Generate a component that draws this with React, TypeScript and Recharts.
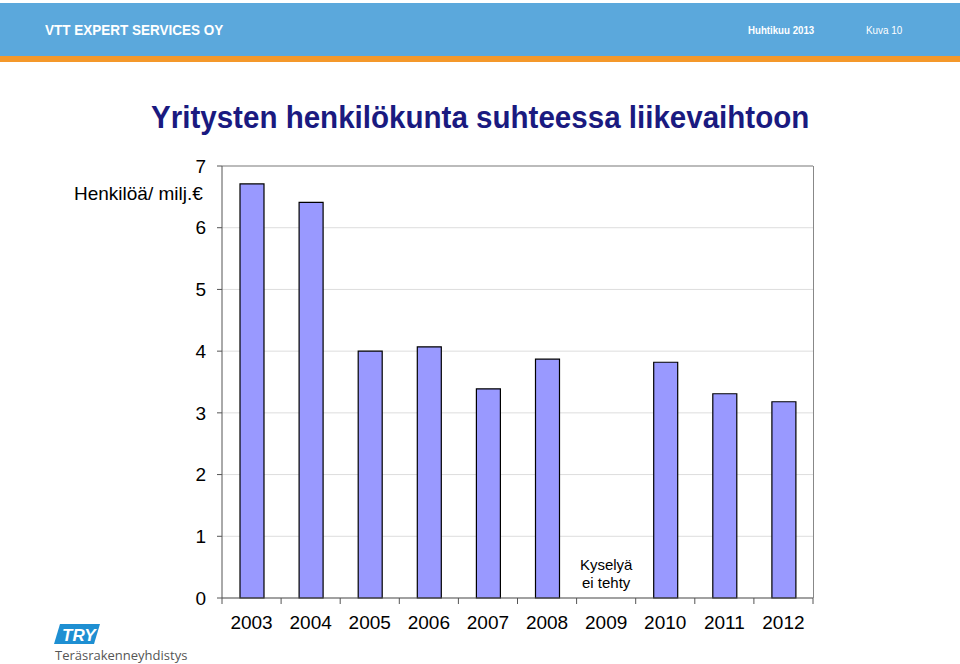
import {
  BarChart,
  Bar,
  XAxis,
  YAxis,
  CartesianGrid,
  ReferenceLine,
  ReferenceDot,
} from "recharts";

const years = ["2003", "2004", "2005", "2006", "2007", "2008", "2009", "2010", "2011", "2012"];
const staffPerMillion: (number | null)[] = [6.71, 6.41, 4.0, 4.07, 3.39, 3.87, null, 3.82, 3.31, 3.18];
const yTicks = [0, 1, 2, 3, 4, 5, 6, 7];
const noSurveyYear = "2009";
const noSurveyLines = ["Kyselyä", "ei tehty"];

const data = years.map((y, i) => ({ year: y, value: staffPerMillion[i] }));

const font = "'Liberation Sans', Arial, sans-serif";

const NoteLabel = (props: any) => {
  const vb = props.viewBox || {};
  const cx = vb.x + (vb.width || 0) / 2;
  const cy = vb.y;
  return (
    <text x={cx} y={cy} textAnchor="middle" fontFamily={font} fontSize={15} fill="#000">
      {noSurveyLines.map((l, i) => (
        <tspan key={l} x={cx} dy={i === 0 ? -6 : 18}>
          {l}
        </tspan>
      ))}
    </text>
  );
};

// year label plus tick marks on category boundaries (Excel style)
const YearTick = (props: any) => {
  const { x, y, payload, index, width, visibleTicksCount } = props;
  const band = width / (visibleTicksCount || years.length);
  const last = index === (visibleTicksCount || years.length) - 1;
  return (
    <g>
      <line x1={x - band / 2} x2={x - band / 2} y1={y} y2={y + 6} stroke="#555" />
      {last && <line x1={x + band / 2} x2={x + band / 2} y1={y} y2={y + 6} stroke="#555" />}
      <text x={x} y={y + 31} textAnchor="middle" fontSize={19} fontFamily={font} fill="#000">
        {payload.value}
      </text>
    </g>
  );
};

const narrow = (s: number) => ({ transform: `scaleX(${s})`, transformOrigin: "left top" });

export default function App() {
  return (
    <div
      style={{
        position: "fixed",
        left: 0,
        top: 0,
        width: 960,
        height: 664,
        background: "#fff",
        overflow: "hidden",
        fontFamily: font,
      }}
    >
      {/* header band */}
      <div style={{ position: "absolute", left: 0, top: 3, width: 960, height: 53, background: "#5ba8dc" }} />
      <div style={{ position: "absolute", left: 0, top: 56, width: 960, height: 6, background: "#f4982a" }} />
      <div
        style={{
          position: "absolute",
          left: 45,
          top: 21,
          color: "#fff",
          fontWeight: "bold",
          fontSize: 15,
          whiteSpace: "nowrap",
          ...narrow(0.9),
        }}
      >
        VTT EXPERT SERVICES OY
      </div>
      <div
        style={{
          position: "absolute",
          left: 748,
          top: 24,
          color: "#fff",
          fontWeight: "bold",
          fontSize: 11,
          whiteSpace: "nowrap",
          ...narrow(0.88),
        }}
      >
        Huhtikuu 2013
      </div>
      <div
        style={{ position: "absolute", left: 866, top: 24, color: "#fff", fontSize: 11, whiteSpace: "nowrap", ...narrow(0.9) }}
      >
        Kuva 10
      </div>

      <div
        style={{
          position: "absolute",
          left: 151,
          top: 100,
          whiteSpace: "nowrap",
          color: "#1a1a80",
          fontWeight: "bold",
          fontSize: 31,
          ...narrow(0.953),
        }}
      >
        Yritysten henkilökunta suhteessa liikevaihtoon
      </div>

      <div style={{ position: "absolute", left: 74, top: 183, fontSize: 19, color: "#000", whiteSpace: "nowrap" }}>
        Henkilöä/ milj.€
      </div>

      <div style={{ position: "absolute", left: 0, top: 0 }}>
        <BarChart
          width={960}
          height={664}
          data={data}
          barSize={24}
          margin={{ top: 166, right: 147, bottom: 36, left: 182 }}
        >
          <CartesianGrid stroke="#dddddd" vertical={false} />
          <XAxis
            dataKey="year"
            tickLine={false}
            tickSize={0}
            tickMargin={0}
            axisLine={{ stroke: "#555" }}
            tick={<YearTick />}
            height={30}
            interval={0}
          />
          <YAxis
            domain={[0, 7]}
            ticks={yTicks}
            width={40}
            tickSize={5}
            tickMargin={11}
            axisLine={{ stroke: "#555" }}
            tickLine={{ stroke: "#555" }}
            tick={{ fontSize: 19, fill: "#000", fontFamily: font }}
          />
          <ReferenceLine y={7} stroke="#888" />
          <ReferenceLine
            segment={[
              { x: years[years.length - 1], y: 0 },
              { x: years[years.length - 1], y: 7 },
            ]}
            stroke="none"
          />
          <ReferenceDot
            x={noSurveyYear}
            y={0.36}
            r={0}
            fill="none"
            stroke="none"
            label={<NoteLabel />}
          />
          <Bar dataKey="value" fill="#9999ff" stroke="#000" strokeWidth={1.2} isAnimationActive={false} />
        </BarChart>
      </div>
      {/* right frame edge of plot area */}
      <div style={{ position: "absolute", left: 813, top: 166, width: 1, height: 432, background: "#888" }} />

      {/* logo */}
      <svg style={{ position: "absolute", left: 52, top: 622 }} width={150} height={42}>
        <polygon points="8,2 48,2 42,22 2,22" fill="#1e8fd2" />
        <text x={10} y={19} fill="#fff" fontStyle="italic" fontWeight="bold" fontSize={17} fontFamily={font}>
          TRY
        </text>
        <text x={3} y={38} fill="#555" fontSize={13} fontFamily="'Open Sans', sans-serif">
          Teräsrakenneyhdistys
        </text>
      </svg>
    </div>
  );
}
